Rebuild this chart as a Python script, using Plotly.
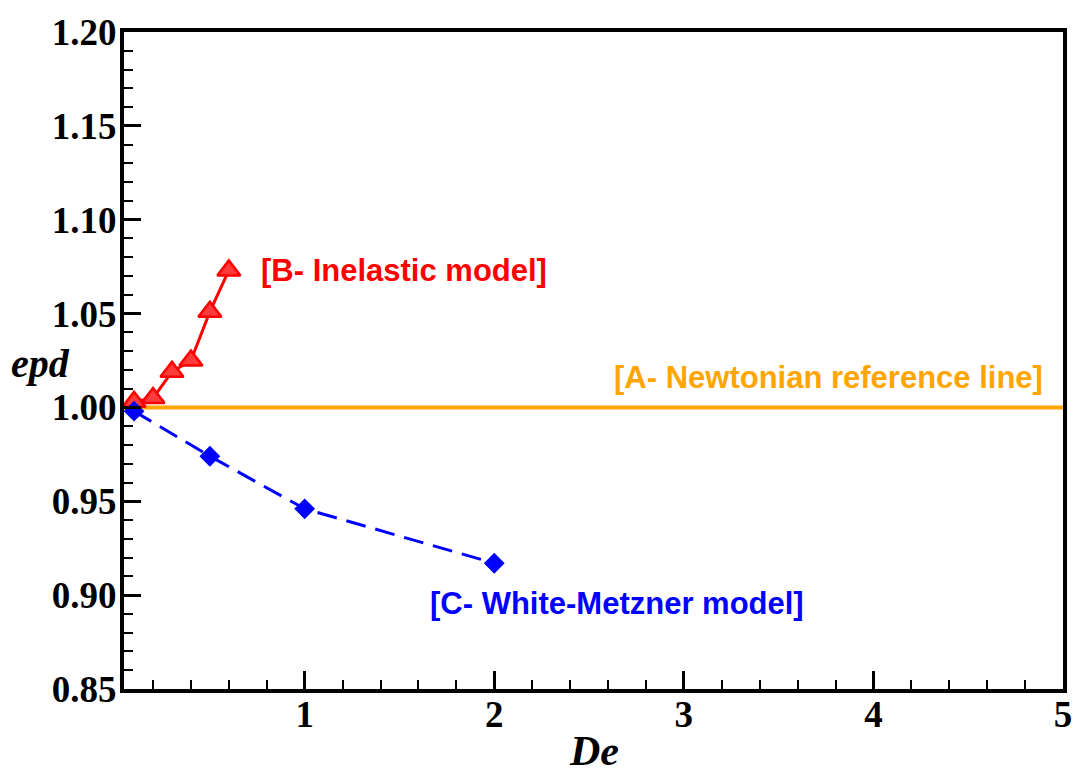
import plotly.graph_objects as go

# Data
de_inelastic = [0.1, 0.2, 0.3, 0.4, 0.5, 0.6]
epd_inelastic = [1.003, 1.005, 1.019, 1.025, 1.051, 1.073]
de_wm = [0.1, 0.5, 1.0, 2.0]
epd_wm = [0.998, 0.974, 0.946, 0.917]
de_newton = [0.047, 5.0]
epd_newton = [1.0, 1.0]

x_ticks = [1, 2, 3, 4, 5]
y_ticks = [0.85, 0.90, 0.95, 1.00, 1.05, 1.10, 1.15, 1.20]

label_font = "Liberation Sans, Arial, sans-serif"
serif = "Liberation Serif, Times New Roman, serif"

fig = go.Figure()
fig.add_trace(go.Scatter(x=de_newton, y=epd_newton, mode="lines",
                         line=dict(color="#FFA500", width=4), showlegend=False))
fig.add_trace(go.Scatter(x=de_inelastic, y=epd_inelastic, mode="lines+markers",
                         line=dict(color="#FF0000", width=3),
                         marker=dict(symbol="triangle-up", size=20, color="#FF3A3A",
                                     line=dict(color="#FF0000", width=2.5)),
                         showlegend=False))
fig.add_trace(go.Scatter(x=de_wm, y=epd_wm, mode="lines+markers",
                         line=dict(color="#0000FF", width=3, dash="20px,10px"),
                         marker=dict(symbol="diamond", size=16, color="#0000FF"),
                         showlegend=False))

fig.add_annotation(x=0.76, y=1.0728, text="<b>[B- Inelastic model]</b>", showarrow=False,
                   xanchor="left", yanchor="middle",
                   font=dict(family=label_font, size=31, color="#FF0000"))
fig.add_annotation(x=2.623, y=1.0162, text="<b>[A- Newtonian reference line]</b>", showarrow=False,
                   xanchor="left", yanchor="middle",
                   font=dict(family=label_font, size=31, color="#FFA500"))
fig.add_annotation(x=1.652, y=0.8958, text="<b>[C- White-Metzner model]</b>", showarrow=False,
                   xanchor="left", yanchor="middle",
                   font=dict(family=label_font, size=31, color="#0000FF"))

fig.add_annotation(xref="paper", yref="paper", x=(597 - 124) / 944, y=-(752 - 689) / 665,
                   xanchor="center", yanchor="middle",
                   text="<b><i>De</i></b>", showarrow=False,
                   font=dict(family=serif, size=42, color="black"))
fig.add_annotation(xref="paper", yref="paper",
                   x=(40 - 124) / 944, y=(689 - 360) / 665, xanchor="center", yanchor="middle",
                   text="<b><i>epd</i></b>", showarrow=False,
                   font=dict(family=serif, size=40, color="black"))

tick_font = dict(family=serif, size=37, color="black")

fig.update_xaxes(range=[0.047, 5.0], tickvals=x_ticks, ticktext=[f"<b>{v}</b>" for v in x_ticks],
                 ticks="inside", ticklen=18, tickwidth=2.5, tickcolor="black",
                 showline=True, linewidth=4, linecolor="black", mirror=True,
                 showgrid=False, zeroline=False, tickfont=tick_font, ticklabelstandoff=-10,
                 minor=dict(tick0=0, dtick=0.2, ticks="inside", ticklen=9, tickwidth=2, tickcolor="black", showgrid=False))
fig.update_yaxes(range=[0.85, 1.20], tickvals=y_ticks, ticktext=[f"<b>{v:.2f}</b>" for v in y_ticks],
                 ticks="inside", ticklen=17, tickwidth=2.5, tickcolor="black",
                 showline=True, linewidth=4, linecolor="black", mirror=True,
                 showgrid=False, zeroline=False, tickfont=tick_font, ticklabelstandoff=-4,
                 minor=dict(tick0=0.85, dtick=0.01, ticks="inside", ticklen=9, tickwidth=2, tickcolor="black", showgrid=False))

fig.update_layout(width=1084, height=777, margin=dict(l=124, r=16, t=24, b=88),
                  plot_bgcolor="white", paper_bgcolor="white")

fig.write_html("out.html")
